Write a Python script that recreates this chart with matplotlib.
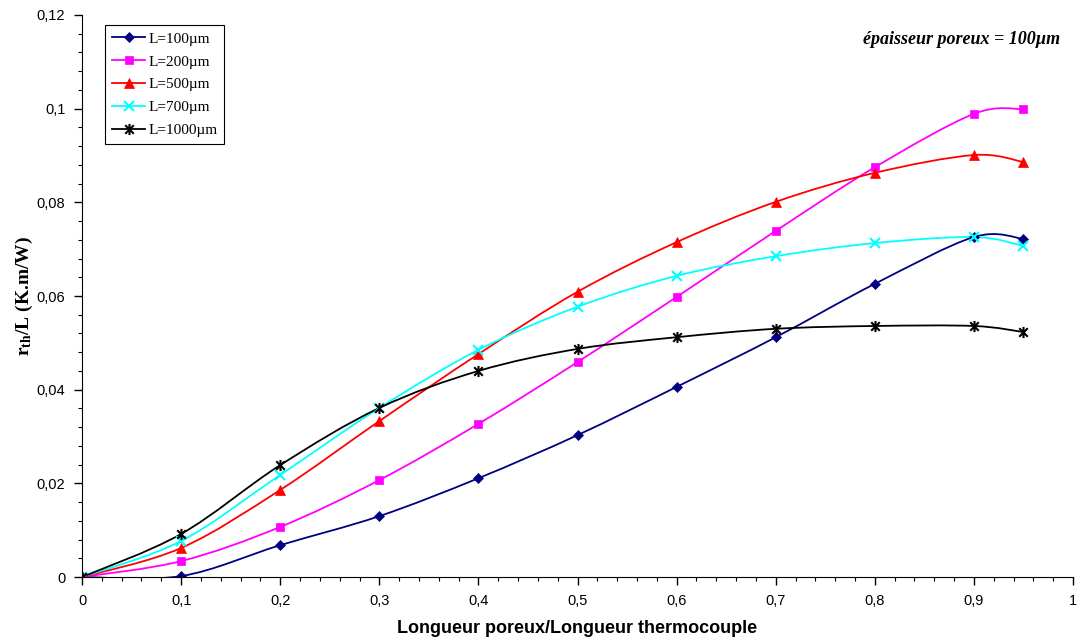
import matplotlib
matplotlib.use('Agg')
import matplotlib.pyplot as plt
import numpy as np
from matplotlib.path import Path
from matplotlib.patches import PathPatch
from matplotlib.ticker import MultipleLocator, FuncFormatter

x = [0, 0.1, 0.2, 0.3, 0.4, 0.5, 0.6, 0.7, 0.8, 0.9, 0.95]
l100 = [0, 0.0002, 0.0068, 0.0130, 0.0211, 0.0303, 0.0406, 0.0512, 0.0626, 0.0726, 0.0722]
l200 = [0, 0.0034, 0.0107, 0.0207, 0.0327, 0.0459, 0.0598, 0.0739, 0.0875, 0.0989, 0.0999]
l500 = [0, 0.0062, 0.0186, 0.0333, 0.0476, 0.0609, 0.0715, 0.0801, 0.0863, 0.0901, 0.0886]
l700 = [0, 0.0077, 0.0218, 0.0361, 0.0485, 0.0577, 0.0643, 0.0685, 0.0713, 0.0726, 0.0707]
l1000 = [0, 0.0092, 0.0239, 0.0361, 0.0440, 0.0487, 0.0512, 0.0530, 0.0536, 0.0536, 0.0523]
labels = ['L=100µm', 'L=200µm', 'L=500µm', 'L=700µm', 'L=1000µm']

plt.rcParams['mathtext.fontset'] = 'custom'
plt.rcParams['mathtext.rm'] = 'Liberation Serif:bold'
plt.rcParams['mathtext.bf'] = 'Liberation Serif:bold'
plt.rcParams['mathtext.it'] = 'Liberation Serif:bold'

# asterisk marker like Excel's star: x plus vertical bar
star = Path([(-1, -1), (1, 1), (-1, 1), (1, -1), (0, -1.3), (0, 1.3)],
            [Path.MOVETO, Path.LINETO, Path.MOVETO, Path.LINETO, Path.MOVETO, Path.LINETO])

styles = [
    ('#000080', 'D', 5),
    ('#FF00FF', 's', 6),
    ('#FF0000', '^', 7),
    ('#00FFFF', 'x', 7),
    ('#000000', star, 8),
]


def smooth_path(xs, ys):
    # Excel-style smoothed line as cubic bezier segments
    p = np.column_stack([xs, ys])
    n = len(p)
    verts = [p[0]]
    codes = [Path.MOVETO]
    for i in range(n - 1):
        p0 = p[i - 1] if i > 0 else p[i]
        p3 = p[i + 2] if i + 2 < n else p[i + 1]
        c1 = p[i] + (p[i + 1] - p0) / 6
        c2 = p[i + 1] - (p3 - p[i]) / 6
        verts += [c1, c2, p[i + 1]]
        codes += [Path.CURVE4] * 3
    return Path(verts, codes)


fig = plt.figure(figsize=(10.78, 6.43), dpi=100)
ax = fig.add_axes([0.0761, 0.1026, 0.9193, 0.8741])

for ys, (c, m, ms), lab in zip([l100, l200, l500, l700, l1000], styles, labels):
    mew = 1.5 if (m is star or m == 'x') else 0.5
    ax.add_patch(PathPatch(smooth_path(x, ys), fill=False, edgecolor=c, lw=1.3))
    ax.plot(x, ys, linestyle='none', marker=m, color=c, markersize=ms, markeredgewidth=mew)
    ax.plot([], [], color=c, lw=1.3, marker=m, markersize=ms, markeredgewidth=mew, label=lab)

ax.set_xlim(0, 1)
ax.set_ylim(0, 0.12)
ax.spines['top'].set_visible(False)
ax.spines['right'].set_visible(False)
ax.xaxis.set_major_locator(MultipleLocator(0.1))
ax.xaxis.set_minor_locator(MultipleLocator(0.02))
ax.yaxis.set_major_locator(MultipleLocator(0.02))
ax.yaxis.set_minor_locator(MultipleLocator(0.004))


def fmt(v, pos):
    s = ('%.2f' % v).rstrip('0').rstrip('.')
    return s.replace('.', ',')


ax.xaxis.set_major_formatter(FuncFormatter(fmt))
ax.yaxis.set_major_formatter(FuncFormatter(fmt))
ax.tick_params(which='major', length=6, width=1, labelsize=10.5, pad=6)
ax.tick_params(which='minor', length=3, width=0.8)
for t in ax.get_xticklabels() + ax.get_yticklabels():
    t.set_fontfamily('Liberation Sans')

ax.set_xlabel('Longueur poreux/Longueur thermocouple', fontfamily='Liberation Sans',
              fontweight='bold', fontsize=13, labelpad=9)
ax.set_ylabel(r'r$_{\mathrm{th}}$/L (K.m/W)', fontfamily='Liberation Serif',
              fontweight='bold', fontsize=14)
ax.yaxis.set_label_coords(-0.047, 0.5)

ax.text(0.987, 0.957, 'épaisseur poreux = 100µm', transform=ax.transAxes,
        ha='right', va='center', fontfamily='Liberation Serif', fontweight='bold',
        fontstyle='italic', fontsize=13)

leg = ax.legend(loc='upper left', bbox_to_anchor=(0.023, 0.982), numpoints=1,
                prop={'family': 'Liberation Serif', 'size': 11}, handlelength=2.2,
                fancybox=False, edgecolor='black', framealpha=1, borderpad=0.45,
                labelspacing=0.6, handletextpad=0.2, borderaxespad=0)
leg.get_frame().set_linewidth(0.8)

fig.savefig('out.png', dpi=100)
